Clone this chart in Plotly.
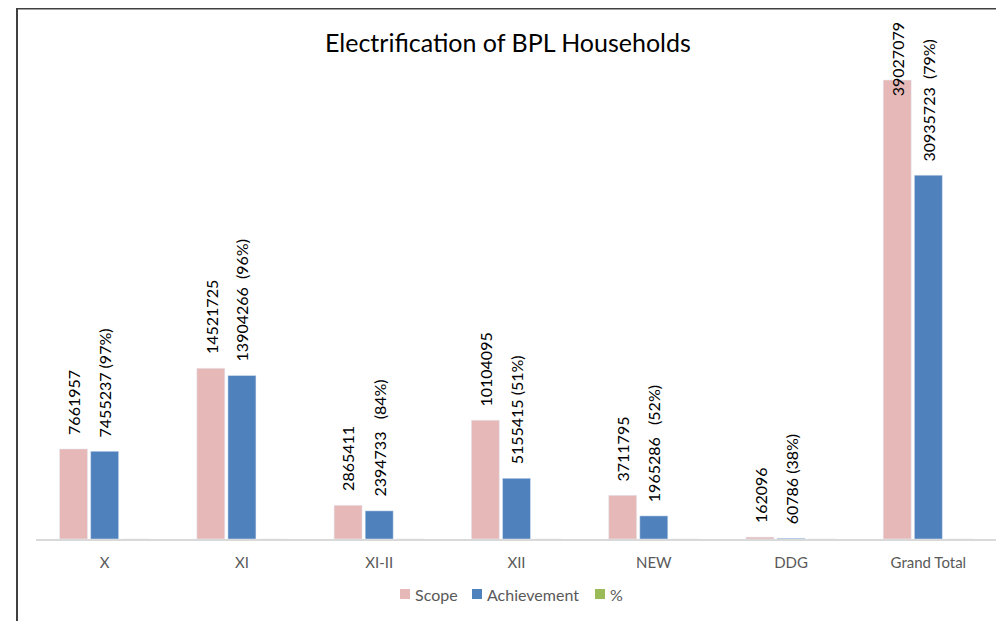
import plotly.graph_objects as go

categories = ["X", "XI", "XI-II", "XII", "NEW", "DDG", "Grand Total"]
scope = [7661957, 14521725, 2865411, 10104095, 3711795, 162096, 39027079]
achievement = [7455237, 13904266, 2394733, 5155415, 1965286, 60786, 30935723]
percent = [97, 96, 84, 51, 52, 38, 79]
scope_labels = ["7661957", "14521725", "2865411", "10104095", "3711795", "162096", "39027079"]
achievement_labels = ["7455237 (97%)", "13904266  (96%)", "2394733   (84%)", "5155415 (51%)",
                      "1965286   (52%)", "60786 (38%)", "30935723  (79%)"]
series_names = ["Scope", "Achievement", "%"]
series_colors = ["#E6B9B8", "#4F81BD", "#9BBB59"]

# page body has an 8px margin; figure coordinates = screen coordinates - 8
OFF = 8
W, H = 1004 - OFF, 621 - OFF
ML, MR, MT, MB = 36 - OFF, 7, 30 - OFF, 82
plot_w = W - ML - MR
plot_h = H - MT - MB
ymax = 43.28e6
bargap = 0.32
bargroupgap = 0.1
cat_px = plot_w / len(categories)
pitch_px = (1 - bargap) / 3 * cat_px


def px(sx):
    return (sx - OFF - ML) / plot_w


def py(sy):
    return (H - MB - (sy - OFF)) / plot_h


FONT = "Lato"
fig = go.Figure()
for name, vals, col in zip(series_names, [scope, achievement, percent], series_colors):
    fig.add_trace(go.Bar(name=name, x=categories, y=vals, marker_color=col, showlegend=False))

annotations = []
for i, c in enumerate(categories):
    for val, lab, shift in ((scope[i], scope_labels[i], -pitch_px), (achievement[i], achievement_labels[i], 0)):
        ys = 12
        if val * plot_h / ymax + 12 + 90 > plot_h + 20:
            ys = -18
        annotations.append(dict(
            x=c, y=val, xref="x", yref="y", text=lab.replace(" ", "\u00a0"),
            textangle=-90, showarrow=False, xanchor="center", yanchor="bottom",
            xshift=shift, yshift=ys, font=dict(family=FONT, size=16, color="#000000")))

annotations.append(dict(text="Electrification of BPL Households", xref="paper", yref="paper",
                        x=px(508), y=py(42), showarrow=False,
                        xanchor="center", yanchor="middle",
                        font=dict(family=FONT, size=25, color="#000000")))

shapes = [dict(type="rect", xref="paper", yref="paper",
               x0=px(17), x1=px(997), y0=py(640), y1=py(8.5),
               line=dict(color="#404040", width=2), fillcolor="rgba(0,0,0,0)", layer="above")]

# legend
legend_sq_x = [400, 472, 595]
legend_tx_x = [413, 485, 608]
for name, col, sx, tx in zip(series_names, series_colors, legend_sq_x, legend_tx_x):
    shapes.append(dict(type="rect", xref="paper", yref="paper",
                       x0=px(sx), x1=px(sx + 10), y0=py(599), y1=py(589),
                       line=dict(width=0), fillcolor=col))
    annotations.append(dict(text=name, xref="paper", yref="paper", x=px(tx), y=py(594),
                            xanchor="left", yanchor="middle", showarrow=False,
                            font=dict(family=FONT, size=16, color="#595959")))

fig.update_layout(
    width=W, height=H,
    margin=dict(l=ML, r=MR, t=MT, b=MB),
    paper_bgcolor="white", plot_bgcolor="white",
    barmode="group", bargap=bargap, bargroupgap=bargroupgap,
    showlegend=False,
    xaxis=dict(showline=True, linecolor="#D9D9D9", linewidth=2, ticks="", showgrid=False,
               tickfont=dict(family=FONT, size=15, color="#595959"), ticklabelstandoff=9),
    yaxis=dict(range=[0, ymax], visible=False, showgrid=False),
    annotations=annotations,
    shapes=shapes,
)

fig.write_html("out.html")
